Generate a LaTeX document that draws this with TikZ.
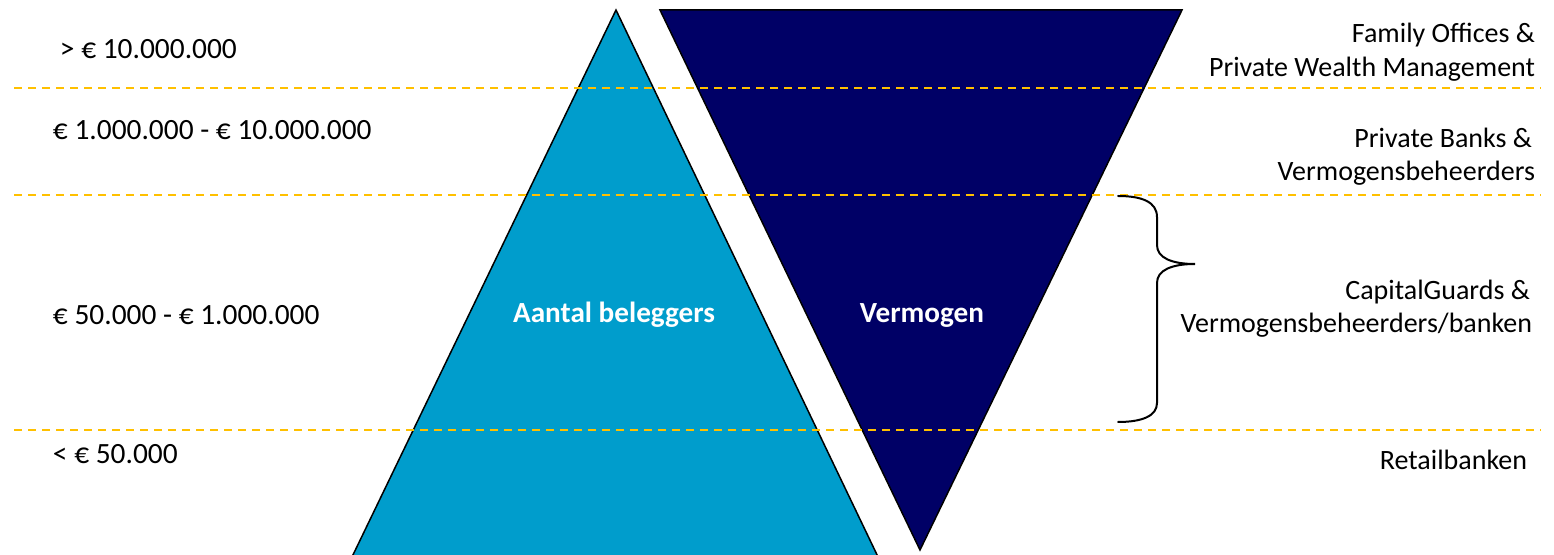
\documentclass[tikz,border=0pt]{standalone}
\usepackage{fontspec}
\setmainfont{Carlito}
\definecolor{lightb}{RGB}{0,157,204}
\definecolor{navy}{RGB}{0,0,102}
\definecolor{gold}{RGB}{255,192,0}
\begin{document}
\begin{tikzpicture}[x=0.5pt,y=-0.5pt,
  every node/.style={inner sep=0,outer sep=0,font=\fontsize{14}{16}\selectfont},
  leftlbl/.style={anchor=base west,font=\fontsize{14.7}{17}\selectfont},
  rightlbl/.style={anchor=base east},
  inlbl/.style={anchor=base,text=white,font=\fontsize{14.6}{17}\selectfont\bfseries},
  tri/.style={draw=black,line width=0.75pt,line join=miter},
  sep/.style={draw=gold,line width=1pt,dash pattern=on 4pt off 3pt},
  bracestyle/.style={draw=black,line width=1pt,line cap=round}]
\useasboundingbox (0,0) rectangle (1554,555);
\begin{scope}
\clip (0,0) rectangle (1554,555);
\filldraw[tri,fill=lightb] (616,10) -- (345.7,570) -- (884.3,570) -- cycle;
\end{scope}
\filldraw[tri,fill=navy] (660,10) -- (1182,10) -- (920,550) -- cycle;
% separators
\coordinate (l1) at (14,88);  \coordinate (r1) at (1541,88);
\coordinate (l2) at (14,195); \coordinate (r2) at (1541,195);
\coordinate (l3) at (14,430); \coordinate (r3) at (1541,430);
\draw[sep] (l1) -- (r1);
\draw[sep] (l2) -- (r2);
\draw[sep] (l3) -- (r3);
% left labels
\node[leftlbl] (a1) at (60,59) {> € 10.000.000};
\node[leftlbl] (a2) at (53,140) {€ 1.000.000 - € 10.000.000};
\node[leftlbl] (a3) at (53,325) {€ 50.000 - € 1.000.000};
\node[leftlbl] (a4) at (53,464) {< € 50.000};
% right labels
\node[rightlbl] (b1) at (1535,43) {Family Offices \&};
\node[rightlbl] (b2) at (1535,77) {Private Wealth Management};
\node[rightlbl] (b3) at (1532,148) {Private Banks \&};
\node[rightlbl] (b4) at (1535,181) {Vermogensbeheerders};
\node[rightlbl] (b5) at (1530,300) {CapitalGuards \&};
\node[rightlbl] (b6) at (1532,333) {Vermogensbeheerders/banken};
\node[rightlbl] (b7) at (1527,470) {Retailbanken};
% inner labels
\node[inlbl] (c1) at (614,323) {Aantal beleggers};
\node[inlbl] (c2) at (922,323) {Vermogen};
% brace
\coordinate (bt) at (1118,196);
\coordinate (bm) at (1195,264);
\coordinate (bb) at (1118,422);
\draw[bracestyle] (bt) .. controls (1142,196) and (1157,202) .. (1157,217)
  -- (1157,245) .. controls (1157,258) and (1172,264) .. (bm)
  .. controls (1172,264) and (1157,270) .. (1157,283)
  -- (1157,403) .. controls (1157,416) and (1142,422) .. (bb);
\end{tikzpicture}
\end{document}
